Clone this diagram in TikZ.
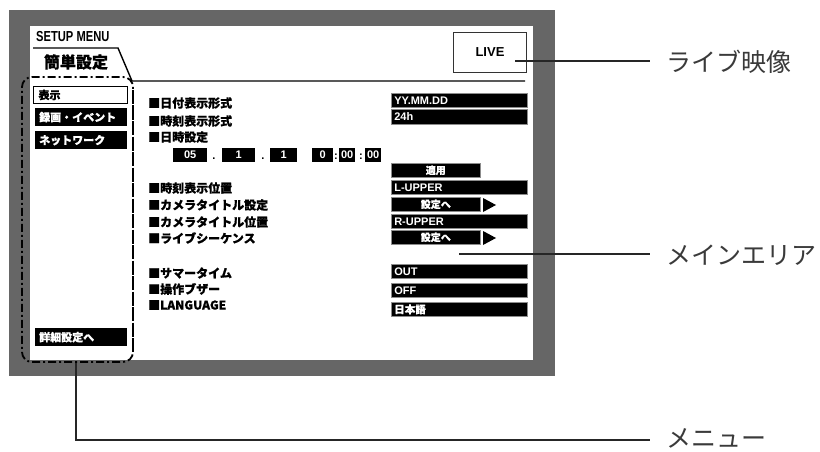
\documentclass[tikz,border=0pt]{standalone}
\usepackage{fontspec}
\newfontfamily\jp[BoldFeatures={FakeBold=0.6}]{Noto Sans CJK JP}
\newfontfamily\ar{Liberation Sans}
\newfontfamily\arn[FakeStretch=0.77]{Liberation Sans}
\definecolor{framegray}{HTML}{666666}
\definecolor{ink}{HTML}{262626}
\definecolor{lblgray}{HTML}{3A3A3A}
\tikzset{
  valbox/.style={fill=black, draw=black!45, line width=0.6pt, text=white, anchor=north west,
    minimum height=14pt, inner ysep=0pt, inner xsep=3pt, align=left,
    font=\ar\bfseries\fontsize{11}{11}\selectfont},
  widebox/.style={valbox, text width=130pt},
  narrowbox/.style={valbox, text width=83pt, align=center, font=\jp\bfseries\fontsize{10}{10}\selectfont},
  datebox/.style={fill=black, text=white, anchor=north west, minimum height=14pt, inner sep=0pt,
    font=\ar\bfseries\fontsize{11}{10}\selectfont},
  menubtn/.style={fill=black, text=white, anchor=north west, minimum height=18pt, text width=84pt,
    inner xsep=4pt, inner ysep=0pt, align=left, font=\jp\bfseries\fontsize{11}{11}\selectfont},
  itemlbl/.style={anchor=west, inner sep=0pt, font=\jp\bfseries\fontsize{12}{12}\selectfont},
  sep/.style={anchor=base, inner sep=0pt, font=\ar\bfseries\fontsize{11}{10}\selectfont},
  callout/.style={anchor=west, inner sep=0pt, text=lblgray, font=\jp\fontsize{25}{25}\selectfont},
  leader/.style={draw=ink, line width=1.8pt},
  dashdot/.style={draw=black, line width=1.8pt, dash pattern=on 8pt off 3pt on 2pt off 3pt},
}
\begin{document}
\begin{tikzpicture}[x=1pt,y=-1pt]
\useasboundingbox (0,0) rectangle (820,452);
% monitor frame
\fill[framegray] (9,10) rectangle (555,376);
\fill[white] (30,26) rectangle (533,360);
% header
\node[anchor=west, inner sep=0pt, font=\arn\bfseries\fontsize{14.5}{14}\selectfont] (setup) at (36,37) {SETUP MENU};
\node[anchor=center, inner sep=0pt, font=\jp\bfseries\fontsize{16}{16}\selectfont] (tab) at (76,62) {簡単設定};
\draw[black, line width=1.4pt] (33,48) -- (118,48) -- (132,81) -- (525,81);
% LIVE box
\node[draw=black!80, line width=1pt, anchor=north west, minimum width=73pt, minimum height=40pt, inner sep=0pt,
  font=\ar\bfseries\fontsize{13}{13}\selectfont] (live) at (453,32) {LIVE};
% menu region
\draw[dashdot, rounded corners=10pt] (133,100) -- (133,77) -- (22,77) -- (22,362) -- (133,362) -- (133,345);
\draw[black, line width=1.8pt, dash pattern=on 14pt off 1.5pt] (133,90) -- (133,352);
\node[draw=black, line width=1pt, fill=white, anchor=north west, minimum height=17pt, text width=84pt,
  inner xsep=5pt, inner ysep=0pt, align=left, font=\jp\bfseries\fontsize{11}{11}\selectfont] (m1) at (33,86) {表示};
\node[menubtn] (m2) at (35,108) {録画・イベント};
\node[menubtn] (m3) at (35,131) {ネットワーク};
\node[menubtn] (m4) at (35,328) {詳細設定へ};
% item labels
\node[itemlbl] (i1) at (148,103) {■日付表示形式};
\node[itemlbl] (i2) at (148,121) {■時刻表示形式};
\node[itemlbl] (i3) at (148,137) {■日時設定};
\node[itemlbl] (i4) at (148,188) {■時刻表示位置};
\node[itemlbl] (i5) at (148,205) {■カメラタイトル設定};
\node[itemlbl] (i6) at (148,222) {■カメラタイトル位置};
\node[itemlbl] (i7) at (148,238) {■ライブシーケンス};
\node[itemlbl] (i8) at (148,273) {■サマータイム};
\node[itemlbl] (i9) at (148,289) {■操作ブザー};
\node[itemlbl] (i10) at (148,305) {■LANGUAGE};
% date/time row
\node[datebox, minimum width=34pt] (dy) at (173,148) {05};
\node[sep] (dot1) at (214,159) {.};
\node[datebox, minimum width=33pt] (dm) at (222,148) {1};
\node[sep] (dot2) at (263,159) {.};
\node[datebox, minimum width=27pt] (dd) at (270,148) {1};
\node[datebox, minimum width=21pt] (th) at (312,148) {0};
\node[sep] (col1) at (336,159) {:};
\node[datebox, minimum width=16pt] (tm) at (339,148) {00};
\node[sep] (col2) at (361,159) {:};
\node[datebox, minimum width=16pt] (ts) at (365,148) {00};
% value boxes
\node[widebox] (v1) at (391,93) {YY.MM.DD};
\node[widebox] (v2) at (391,109.5) {24h};
\node[narrowbox] (v3) at (391,163) {適用};
\node[widebox] (v4) at (391,180) {L-UPPER};
\node[narrowbox] (v5) at (391,197) {設定へ};
\node[widebox] (v6) at (391,214) {R-UPPER};
\node[narrowbox] (v7) at (391,230) {設定へ};
\node[widebox] (v8) at (391,264) {OUT};
\node[widebox] (v9) at (391,283) {OFF};
\node[widebox, font=\jp\bfseries\fontsize{10.5}{10}\selectfont] (v10) at (391,302) {日本語};
\fill[black] (483,198) -- (496,205) -- (483,212) -- cycle;
\fill[black] (483,231) -- (496,238) -- (483,245) -- cycle;
% callouts
\node[callout] (c1) at (666,62) {ライブ映像};
\node[callout] (c2) at (666,255) {メインエリア};
\node[callout] (c3) at (666,438.5) {メニュー};
\coordinate (livept) at (515,61);
\coordinate (mainpt) at (459,254);
\coordinate (menupt) at (76,363);
\draw[leader] (livept) -- (650,61);
\draw[leader] (mainpt) -- (650,254);
\draw[leader] (menupt) |- (650,440);
\end{tikzpicture}
\end{document}
